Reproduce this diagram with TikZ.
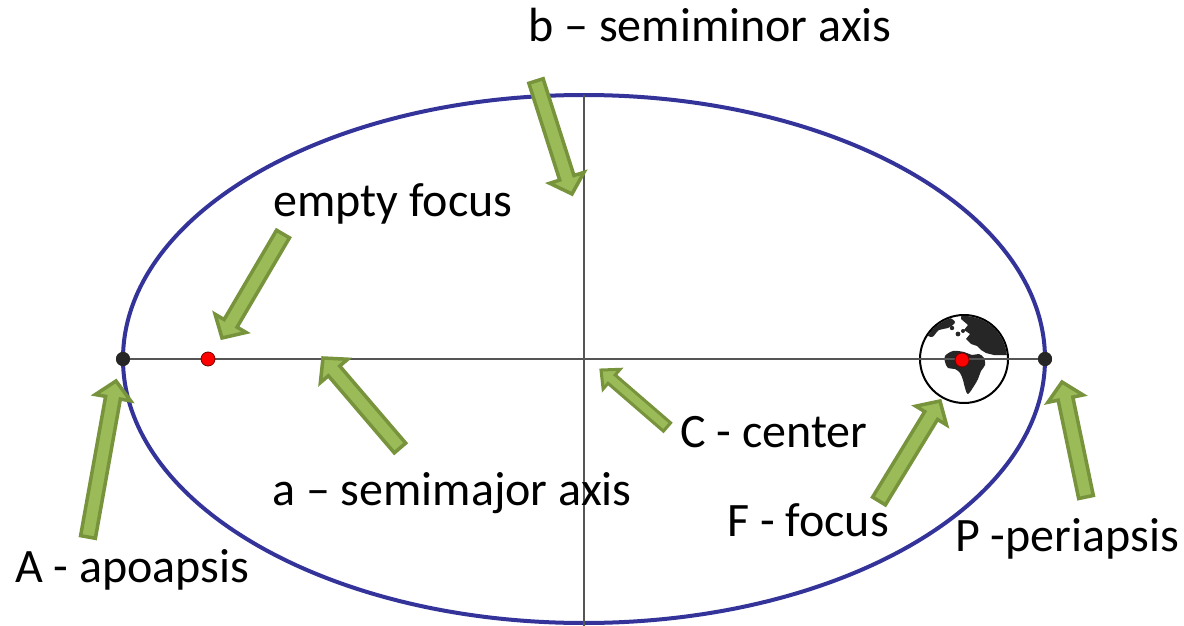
\documentclass[tikz,border=0pt]{standalone}
\usepackage{fontspec}
\setmainfont{Carlito}
\usetikzlibrary{calc}

\definecolor{orbitblue}{HTML}{333399}
\definecolor{arrowfill}{HTML}{9BBB59}
\definecolor{arrowline}{HTML}{77933C}
\definecolor{axisgray}{HTML}{555555}
\definecolor{landdark}{HTML}{262626}

\tikzset{
  orbit/.style={draw=orbitblue, line width=4pt},
  axisline/.style={draw=axisgray, line width=1.8pt},
  pointer/.style={fill=arrowfill, draw=arrowline, line width=3.5pt, line join=miter},
  thinpointer/.style={pointer, line width=3pt},
  lbl/.style={anchor=base west, inner sep=0pt, font=\fontsize{48}{57}\selectfont},
  blackdot/.style={circle, fill=landdark, inner sep=0pt, minimum size=14pt},
  reddot/.style={circle, fill=red, draw=red!45!black, line width=0.8pt, inner sep=0pt, minimum size=14pt},
}

% block arrow: #1 tail, #2 tip, #3 half shaft width, #4 half head width, #5 head length, #6 style
\newcommand\blockarrow[6]{%
  \coordinate (ba-base) at ($(#2)!#5!(#1)$);
  \draw[#6] ($(#1)!#3!90:(#2)$) -- ($(ba-base)!#3!90:(#2)$) -- ($(ba-base)!#4!90:(#2)$)
    -- (#2) -- ($(ba-base)!#4!-90:(#2)$) -- ($(ba-base)!#3!-90:(#2)$)
    -- ($(#1)!#3!-90:(#2)$) -- cycle;
}

\begin{document}
\begin{tikzpicture}[x=1pt, y=-1pt]
\useasboundingbox (0,0) rectangle (1184,626);

% orbit
\coordinate (C) at (584,359);
\draw[orbit] (C) ellipse [x radius=461pt, y radius=264pt];

% earth at the occupied focus
\node[circle, draw=black, line width=2pt, fill=white, minimum size=88pt, inner sep=0pt] (earth) at (964,359) {};
\begin{scope}[shift={(964,359)}]
  \clip (0,0) circle [radius=43pt];
  % north america tip
  \fill[landdark] plot[smooth cycle, tension=0.6] coordinates {(-39,-27) (-31,-37) (-18,-42) (-9,-37) (-16,-31) (-25,-29) (-32,-22)};
  % small islands
  \fill[landdark] (-12,-31) circle [radius=2.2pt];
  \fill[landdark] (-6,-25) circle [radius=2.4pt];
  \fill[landdark] (-1,-28) circle [radius=2pt];
  % eurasia
  \fill[landdark] (-2,-50) -- (-3,-40) -- (4,-34) -- (0,-29) -- (6,-25) -- (2,-20) -- (7,-15)
     -- (13,-13) -- (17,-9) -- (22,-6) -- (30,-4) -- (50,-4) -- (50,-50) -- cycle;
  % africa
  \fill[landdark] plot[smooth cycle, tension=0.55] coordinates {(-19,-3) (-11,-8) (0,-7) (8,-4) (15,-5) (20,-1)
     (21,6) (17,12) (14,20) (10,27) (4,35) (1,29) (-1,21) (-4,14) (-9,10) (-16,9) (-19,3)};
\end{scope}

% axes
\node[blackdot] (apo) at (123,359) {};
\node[blackdot] (peri) at (1045,359) {};
\coordinate (btop) at (584,95);
\coordinate (bbot) at (584,626);
\draw[axisline] (apo.center) -- (peri.center);
\draw[axisline] (btop) -- (bbot);
\node[blackdot] at (apo) {};
\node[blackdot] at (peri) {};

% foci
\node[reddot] (efocus) at (208,359) {};
\node[reddot] (focus) at (962,360) {};

% pointer arrows
\coordinate (tb) at (536,81);     \coordinate (hb) at (572,194);
\coordinate (te) at (283,234);    \coordinate (he) at (222,338);
\coordinate (tA) at (88,537);     \coordinate (hA) at (116,381);
\coordinate (ta) at (400,448);    \coordinate (ha) at (323,358);
\coordinate (tC) at (667,427);    \coordinate (hC) at (601,370);
\coordinate (tF) at (879,501);    \coordinate (hF) at (940,401);
\coordinate (tP) at (1086,497);   \coordinate (hP) at (1062,382);

\blockarrow{tb}{hb}{7.5pt}{18pt}{17pt}{pointer}
\blockarrow{te}{he}{7.5pt}{18pt}{17pt}{pointer}
\blockarrow{tA}{hA}{7.5pt}{18pt}{17pt}{pointer}
\blockarrow{ta}{ha}{7.5pt}{18pt}{17pt}{pointer}
\blockarrow{tC}{hC}{5.5pt}{13pt}{14pt}{thinpointer}
\blockarrow{tF}{hF}{7.5pt}{18pt}{17pt}{pointer}
\blockarrow{tP}{hP}{7.5pt}{18pt}{17pt}{pointer}

% labels
\node[lbl] (lb) at (528,42) {b – semiminor axis};
\node[lbl] (le) at (273,216) {empty focus};
\node[lbl] (la) at (272,505) {a – semimajor axis};
\node[lbl] (lC) at (680,447) {C - center};
\node[lbl] (lF) at (727,536) {F - focus};
\node[lbl] (lP) at (955,551) {P -periapsis};
\node[lbl] (lA) at (15,582) {A - apoapsis};
\end{tikzpicture}
\end{document}
